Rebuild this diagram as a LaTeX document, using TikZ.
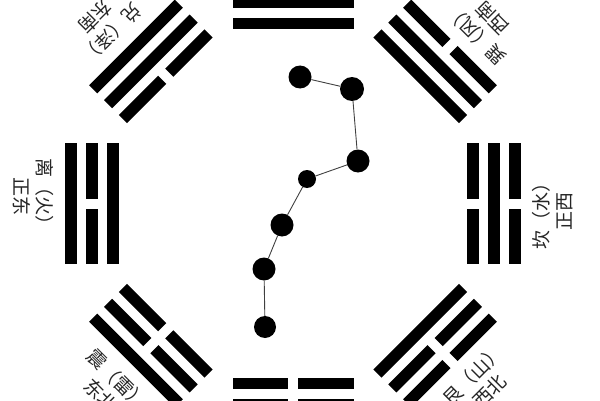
\documentclass[tikz,border=0pt]{standalone}
\usepackage{fontspec}
\newfontfamily\cjk{Noto Sans CJK SC}
\usetikzlibrary{calc}

\tikzset{
  lbl/.style={font=\cjk\fontsize{19}{23}\selectfont, text=black!85, align=center, inner sep=0pt},
  star/.style={circle, fill=black, inner sep=0pt},
  link/.style={draw=black!75, line width=0.9pt}
}

\begin{document}
\begin{tikzpicture}[x=1pt,y=1pt]
	\useasboundingbox (0,0) rectangle (600,400);
	\coordinate (ctr) at (293,196.5);
	% trigrams: angle / inner / middle / outer (1 = solid line)
	\foreach \a/\i/\m/\o in {90/1/1/1, 135/0/1/1, 180/1/0/1, 225/0/0/1, 270/0/0/0, 315/1/0/0, 0/0/1/0, 45/1/1/0}
		\begin{scope}[shift={(ctr)}, rotate=\a-90]
			\foreach \r/\y in {180/\i, 201/\m, 222/\o} {
				\ifnum\y=1
					\fill (-60.5,\r-5.75) rectangle (60.5,\r+5.75);
				\else
					\fill (-60.5,\r-5.75) rectangle (-5,\r+5.75);
					\fill (5,\r-5.75) rectangle (60.5,\r+5.75);
				\fi
			}
		\end{scope};
	% labels: angle / shift along the text / text
	\foreach \a/\s/\t in {135/8/{兑（泽）\\东南}, 180/-7/{离（火）\\正东}, 225/0/{震（雷）\\东北}, 315/6/{艮（山）\\西北}, 0/-8/{坎（水）\\正西}, 45/-10/{巽（风）\\西南}}
		\node[lbl, rotate=\a+90] (lbl\a) at ($(ctr)+(\a:260)+(\a+90:\s)$) {\t};
	% the dipper
	\node[star, minimum size=23pt] (d1) at (300,323) {};
	\node[star, minimum size=24pt] (d2) at (352,311) {};
	\node[star, minimum size=23pt] (d3) at (358,239) {};
	\node[star, minimum size=18pt] (d4) at (307,221) {};
	\node[star, minimum size=23pt] (d5) at (282,175) {};
	\node[star, minimum size=23pt] (d6) at (264,131) {};
	\node[star, minimum size=22pt] (d7) at (265,73) {};
	\draw[link] (d1) -- (d2) -- (d3) -- (d4) -- (d5) -- (d6) -- (d7);
\end{tikzpicture}
\end{document}
